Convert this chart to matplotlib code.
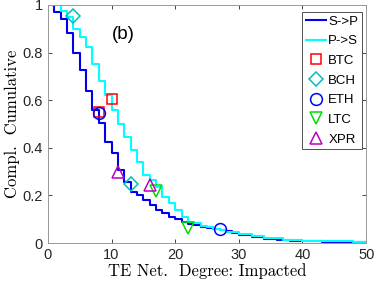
import matplotlib
matplotlib.use('Agg')
import matplotlib.pyplot as plt
from matplotlib.lines import Line2D

# CCDF of TE net degree (impacted), step curves
sp_x = [0, 1, 2, 3, 4, 5, 6, 7, 8, 9, 10, 11, 12, 13, 14, 15, 16, 17, 18, 19, 20,
        21, 22, 23, 24, 25, 26, 27, 28, 29, 30, 32, 34, 36, 38, 40, 43, 46, 50]
sp_y = [1.0, 0.97, 0.94, 0.88, 0.80, 0.727, 0.64, 0.56, 0.503, 0.426, 0.377, 0.307,
        0.255, 0.215, 0.20, 0.18, 0.16, 0.139, 0.125, 0.11, 0.10, 0.09, 0.082, 0.076,
        0.068, 0.064, 0.06, 0.055, 0.05, 0.044, 0.035, 0.027, 0.018, 0.013, 0.01,
        0.007, 0.005, 0.003, 0.002]

ps_x = [0, 2, 3, 4, 5, 6, 7, 8, 9, 10, 11, 12, 13, 14, 15, 16, 17, 18, 19, 20,
        21, 22, 23, 24, 25, 26, 27, 28, 30, 32, 34, 37, 40, 44, 48, 50]
ps_y = [1.0, 0.975, 0.95, 0.90, 0.867, 0.825, 0.75, 0.68, 0.62, 0.56, 0.50, 0.447,
        0.39, 0.34, 0.286, 0.265, 0.237, 0.195, 0.167, 0.139, 0.11, 0.09, 0.083,
        0.072, 0.066, 0.06, 0.055, 0.048, 0.038, 0.029, 0.021, 0.014, 0.01, 0.007,
        0.004, 0.004]

coins = ['BTC', 'BCH', 'ETH', 'LTC', 'XPR']
coin_x = {'BTC': [8, 10], 'BCH': [4, 13], 'ETH': [8, 27], 'LTC': [17, 22], 'XPR': [11, 16]}
coin_y = {'BTC': [0.55, 0.605], 'BCH': [0.955, 0.25], 'ETH': [0.545, 0.058],
          'LTC': [0.22, 0.065], 'XPR': [0.30, 0.245]}
coin_style = {'BTC': ('s', 'r'), 'BCH': ('D', 'c'), 'ETH': ('o', 'b'),
              'LTC': ('v', '#00dd00'), 'XPR': ('^', 'm')}

fig = plt.figure(figsize=(3.74, 2.88), dpi=100)
ax = fig.add_axes([0.128, 0.156, 0.851, 0.827])

l1, = ax.plot(sp_x, sp_y, drawstyle='steps-post', color='#0000ee', lw=1.5, label='S->P')
l2, = ax.plot(ps_x, ps_y, drawstyle='steps-post', color='#00ffff', lw=1.5, label='P->S')

handles = [l1, l2]
for c in coins:
    m, col = coin_style[c]
    ms = 7 if m == 'D' else 8.5
    if m == 's':
        ms = 7.5
    ax.plot(coin_x[c], coin_y[c], ls='none', marker=m, mfc='none', mec=col, ms=ms, mew=1.1)
    handles.append(Line2D([], [], ls='none', marker=m, mfc='none', mec=col, ms=ms,
                          mew=1.1, label=c))

ax.set_xlim(0, 50)
ax.set_ylim(0, 1)
ax.set_xticks([0, 10, 20, 30, 40, 50])
ax.set_yticks([0, 0.2, 0.4, 0.6, 0.8, 1])
ax.set_yticklabels(['0', '0.2', '0.4', '0.6', '0.8', '1'])
ax.tick_params(direction='in', top=True, right=True, length=3, width=0.6,
               colors='#262626', labelsize=10.5)
for lab in ax.get_xticklabels() + ax.get_yticklabels():
    lab.set_family('Liberation Sans')
for s in ax.spines.values():
    s.set_color('#999999')
    s.set_linewidth(0.7)

ax.set_xlabel('TE Net.  Degree: Impacted', family='cmr10', fontsize=12, labelpad=1)
ax.set_ylabel('Compl.  Cumulative', family='cmr10', fontsize=12, labelpad=2)
ax.text(10.1, 0.855, '(b)', family='Liberation Sans', fontsize=13.5)

leg = ax.legend(handles=handles, loc='upper right', bbox_to_anchor=(0.988, 0.972),
                fancybox=False, framealpha=1, edgecolor='#333333',
                prop={'family': 'Liberation Sans', 'size': 9.5},
                handlelength=1.5, handletextpad=0.2, labelspacing=0.56,
                borderpad=0.3, borderaxespad=0)
leg.get_frame().set_linewidth(0.6)

fig.savefig('out.png', dpi=100)
